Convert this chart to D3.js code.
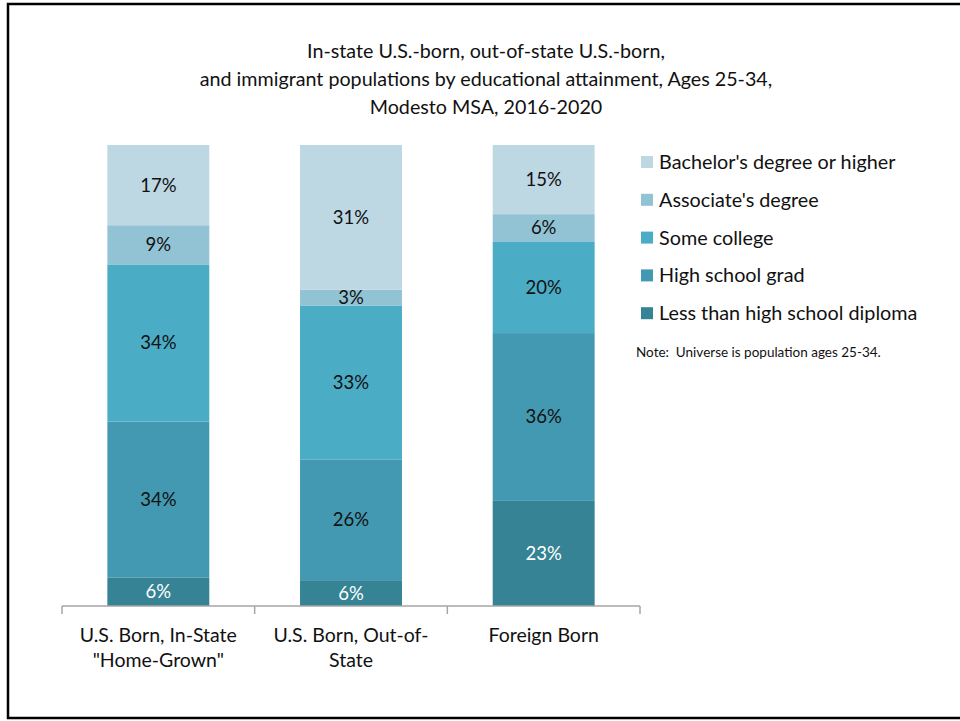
<!DOCTYPE html>
<html>
<head>
<meta charset="utf-8">
<script src="https://cdn.jsdelivr.net/npm/d3@7"></script>
<style>
  body { margin: 0; background: #fff; }
  svg text { font-family: Lato, "Open Sans", sans-serif; }
</style>
</head>
<body>
<div class="main"></div>
<script>
const width = 960;
const height = 721;

const categories = ['U.S. Born, In-State\n"Home-Grown"', 'U.S. Born, Out-of-\nState', 'Foreign Born'];
// bottom to top
const levels = ['Less than high school diploma', 'High school grad', 'Some college', "Associate's degree", "Bachelor's degree or higher"];
const lessThanHS = [6.2, 5.6, 22.8];
const highSchool = [33.8, 26.2, 36.4];
const someCollege = [34.1, 33.4, 19.9];
const associate = [8.5, 3.4, 5.9];
const bachelor = [17.4, 31.4, 15.0];
const colors = ['#358394', '#4399b1', '#4bacc6', '#92c3d4', '#bdd7e3'];
const labelColors = ['#fff', '#111', '#111', '#111', '#111'];

const series = [lessThanHS, highSchool, someCollege, associate, bachelor];

const rows = categories.map((c, i) => {
  const row = { cat: c };
  levels.forEach((l, j) => { row[l] = series[j][i]; });
  return row;
});

const stacked = d3.stack().keys(levels)(rows);

const svg = d3.select('.main')
  .append('svg')
    .attr('width', width)
    .attr('height', height);

// frame
svg.append('rect')
  .attr('x', 8).attr('y', 4)
  .attr('width', 970).attr('height', 714)
  .attr('fill', 'none')
  .attr('stroke', '#000')
  .attr('stroke-width', 2.5);

const x = d3.scaleBand()
  .domain(categories)
  .range([62, 640]);

const barWidth = x.bandwidth() / 1.89;

const y = d3.scaleLinear()
  .domain([0, 100])
  .range([606, 145]);

// Title
const title = ['In-state U.S.-born, out-of-state U.S.-born,',
  'and immigrant populations by educational attainment, Ages 25-34,',
  'Modesto MSA, 2016-2020'];
svg.append('text')
  .attr('x', 486)
  .attr('y', 58)
  .attr('text-anchor', 'middle')
  .attr('font-size', '19.7px')
  .attr('fill', '#111')
  .selectAll('tspan')
  .data(title)
  .join('tspan')
    .attr('x', 486)
    .attr('dy', (_, i) => i === 0 ? 0 : 28)
    .text(d => d);

const layer = svg.selectAll('g.layer')
  .data(stacked)
  .join('g')
    .attr('class', 'layer')
    .attr('fill', (_, i) => colors[i]);

layer.selectAll('rect')
  .data(d => d)
  .join('rect')
    .attr('x', d => x(d.data.cat) + (x.bandwidth() - barWidth) / 2)
    .attr('y', d => y(d[1]))
    .attr('width', barWidth)
    .attr('height', d => y(d[0]) - y(d[1]));

layer.selectAll('text')
  .data((d, i) => d.map(v => ({ v, i })))
  .join('text')
    .attr('x', d => x(d.v.data.cat) + x.bandwidth() / 2)
    .attr('y', d => y((d.v[0] + d.v[1]) / 2))
    .attr('dy', '0.35em')
    .attr('text-anchor', 'middle')
    .attr('font-size', '18.5px')
    .attr('fill', d => labelColors[d.i])
    .text(d => `${Math.round(d.v[1] - d.v[0])}%`);

// Axis
const axis = svg.append('g')
  .attr('transform', 'translate(0,606)');
axis.append('line')
  .attr('x1', 62).attr('x2', 640)
  .attr('stroke', '#a6a6a6').attr('stroke-width', 1.5);
const tickPos = categories.map(c => x(c)).concat([x.range()[1]]);
axis.selectAll('line.tick')
  .data(tickPos)
  .join('line')
    .attr('class', 'tick')
    .attr('x1', d => d).attr('x2', d => d)
    .attr('y1', 0).attr('y2', 8)
    .attr('stroke', '#a6a6a6').attr('stroke-width', 1.5);

axis.selectAll('text')
  .data(categories)
  .join('text')
    .attr('text-anchor', 'middle')
    .attr('font-size', '19.5px')
    .attr('fill', '#111')
    .attr('y', 36)
    .selectAll('tspan')
    .data(d => d.split('\n').map(t => ({ t, c: d })))
    .join('tspan')
      .attr('x', d => x(d.c) + x.bandwidth() / 2)
      .attr('dy', (_, i) => i === 0 ? 0 : 25)
      .text(d => d.t);

// Legend, top entry first
const legendItems = levels.map((l, i) => ({ l, c: colors[i] })).reverse();
const legend = svg.selectAll('g.legend')
  .data(legendItems)
  .join('g')
    .attr('class', 'legend')
    .attr('transform', (_, i) => `translate(641,${162 + i * 37.8})`);
legend.append('rect')
  .attr('x', 0).attr('y', -6)
  .attr('width', 12).attr('height', 12)
  .attr('fill', d => d.c);
legend.append('text')
  .attr('x', 18)
  .attr('dy', '0.35em')
  .attr('font-size', '19.8px')
  .attr('fill', '#111')
  .text(d => d.l);

svg.append('text')
  .attr('x', 636)
  .attr('y', 357)
  .attr('font-size', '13.5px')
  .attr('fill', '#111')
  .attr('xml:space', 'preserve')
  .text('Note:  Universe is population ages 25-34.');
</script>
</body>
</html>
